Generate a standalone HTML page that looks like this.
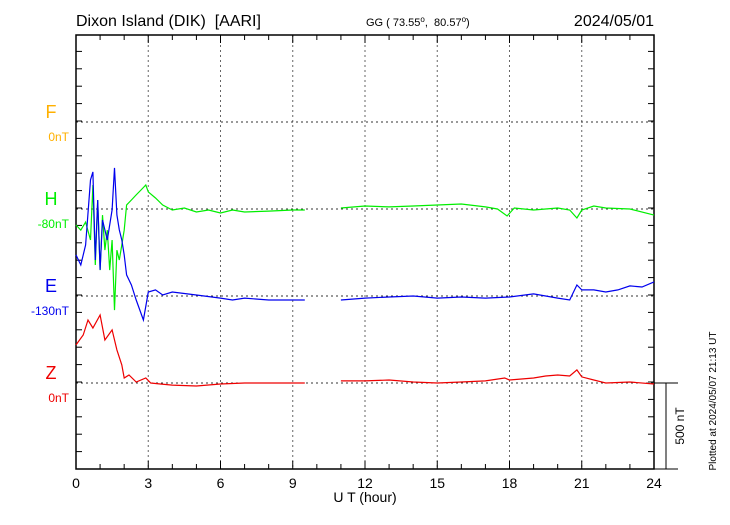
<!DOCTYPE html>
<html><head><meta charset="utf-8"><style>
body{margin:0;background:#fff;}
svg{font-family:"Liberation Sans",Arial,sans-serif;}
text{white-space:pre;}
</style></head><body>
<svg id="chart" width="730" height="520" viewBox="0 0 730 520">
<text x="76" y="26" font-size="16">Dixon Island (DIK)  [AARI]</text>
<text x="366" y="26" font-size="11">GG ( 73.55<tspan dy="-4" font-size="8">o</tspan><tspan dy="4">,  80.57</tspan><tspan dy="-4" font-size="8">o</tspan><tspan dy="4">)</tspan></text>
<text x="654" y="26" font-size="16" text-anchor="end">2024/05/01</text>
<text x="365" y="502" font-size="14" text-anchor="middle">U T (hour)</text>
<text transform="translate(716,401) rotate(-90)" font-size="10" text-anchor="middle">Plotted at 2024/05/07 21:13 UT</text>
<g id="grid"></g><g id="axes"></g><g id="series"></g><g id="labels"></g>
</svg>
<script>
const hours=[0,3,6,9,12,15,18,21,24];
const channels=['F','H','E','Z'];
const chLabels=['0nT','-80nT','-130nT','0nT'];
const chColors=['#ffb000','#00ee00','#0000ee','#ee0000'];
const hT=[0,0.2,0.4,0.6,0.7,0.8,0.9,1.0,1.1,1.2,1.3,1.4,1.5,1.6,1.7,1.8,1.9,2.0,2.1,2.3,2.5,2.7,2.9,3.0,3.3,3.6,4,4.5,5,5.5,6,6.5,7,8,9,9.5,null,11,12,13,14,15,16,17,17.5,17.9,18.2,19,20,20.5,20.8,21,21.5,22,23,24];
const hV=[-92,-121,-75,-178,138,-322,52,-351,-35,-236,-121,-351,-178,-581,-236,-293,-207,-121,23,52,81,109,138,98,63,23,-6,6,-17,-6,-23,-6,-17,-12,-6,-6,null,6,17,12,17,23,29,12,0,-40,6,-6,6,-6,-52,-6,17,6,0,-35];
const eT=[0,0.2,0.4,0.6,0.7,0.8,0.9,1.0,1.1,1.3,1.5,1.6,1.7,1.8,1.9,2.0,2.1,2.3,2.5,2.8,3.0,3.3,3.6,4,5,6,6.5,7,8,9,9.5,null,11,12,13,14,15,16,17,18,19,20,20.5,20.8,21,21.5,22,22.5,23,23.5,24];
const eV=[236,178,293,667,713,207,552,150,437,322,495,736,466,380,322,236,121,63,-23,-138,23,35,6,23,6,-12,-23,-12,-23,-23,-23,null,-23,-12,-6,0,-12,-6,-12,-6,12,-12,-23,63,35,35,23,35,58,52,81];
const zT=[0,0.3,0.5,0.7,1.0,1.2,1.5,1.7,1.9,2.0,2.2,2.5,2.9,3.1,3.5,4,5,6,7,8,9,9.5,null,11,12,13,14,15,16,17,17.8,18,19,19.5,20,20.5,20.8,21,21.5,22,23,24];
const zV=[219,276,362,316,391,247,305,190,104,29,46,6,29,0,-6,-12,-17,-6,0,0,0,0,null,12,12,17,6,0,6,12,29,17,29,40,46,40,75,35,17,0,6,-6];
const X0=76,X1=654,Y0=35,Y1=469;
const bases=[122,209,296,383];
const pxPerNT=87/500;
const xs=t=>X0+(X1-X0)*t/24;
const ys=(v,i)=>bases[i]-v*pxPerNT;
const NS='http://www.w3.org/2000/svg';
function mk(tag,attrs,parent){const e=document.createElementNS(NS,tag);for(const k in attrs)e.setAttribute(k,attrs[k]);document.getElementById(parent).appendChild(e);return e;}
hours.slice(1,-1).forEach(h=>{const l=mk('line',{x1:xs(h),x2:xs(h),y1:Y0,y2:Y1,stroke:'#666','stroke-dasharray':'2,3'},'grid');

});
bases.forEach((b,i)=>{const l=mk('line',{x1:X0,x2:X1,y1:b,y2:b,stroke:'#333','stroke-dasharray':'2,3'},'grid');

});
const fr=mk('rect',{x:X0,y:Y0,width:X1-X0,height:Y1-Y0,fill:'none',stroke:'#000','stroke-width':1.5},'axes');


for(let h=0;h<=24;h++){const len=(h%3==0)?8:5;
mk('line',{x1:xs(h),x2:xs(h),y1:Y1,y2:Y1-len,stroke:'#000'},'axes');
mk('line',{x1:xs(h),x2:xs(h),y1:Y0,y2:Y0+len,stroke:'#000'},'axes');}
for(let y=Y1;y>=Y0;y-=87/5){mk('line',{x1:X0,x2:X0+6,y1:y,y2:y,stroke:'#000'},'axes');mk('line',{x1:X1,x2:X1-6,y1:y,y2:y,stroke:'#000'},'axes');}
hours.forEach(h=>{const t=mk('text',{x:xs(h),y:488,'font-size':14,'text-anchor':'middle'},'labels');t.textContent=h;

});
mk('line',{x1:X1,x2:678,y1:383,y2:383,stroke:'#000'},'axes');
mk('line',{x1:X1,x2:678,y1:469,y2:469,stroke:'#000'},'axes');
const sb=mk('line',{x1:666,x2:666,y1:383,y2:469,stroke:'#000'},'axes');


const st=mk('text',{transform:'translate(684,426) rotate(-90)','font-size':12,'text-anchor':'middle'},'labels');st.textContent='500 nT';


channels.forEach((c,i)=>{const t=mk('text',{x:51,y:bases[i]-4,'font-size':18,'text-anchor':'middle',fill:chColors[i]},'labels');t.textContent=c;


const u=mk('text',{x:69,y:bases[i]+19,'font-size':12,'text-anchor':'end',fill:chColors[i]},'labels');u.textContent=chLabels[i];

});
function draw(T,V,i,name){let d='',pen=false;for(let k=0;k<T.length;k++){if(T[k]===null){pen=false;continue;}d+=(pen?'L':'M')+xs(T[k]).toFixed(1)+','+ys(V[k],i).toFixed(1);pen=true;}
const p=mk('path',{d:d,fill:'none',stroke:chColors[i],'stroke-width':1.2},'series');

}
draw(hT,hV,1,'h-component-line');
draw(eT,eV,2,'e-component-line');
draw(zT,zV,3,'z-component-line');
</script>
</body></html>
